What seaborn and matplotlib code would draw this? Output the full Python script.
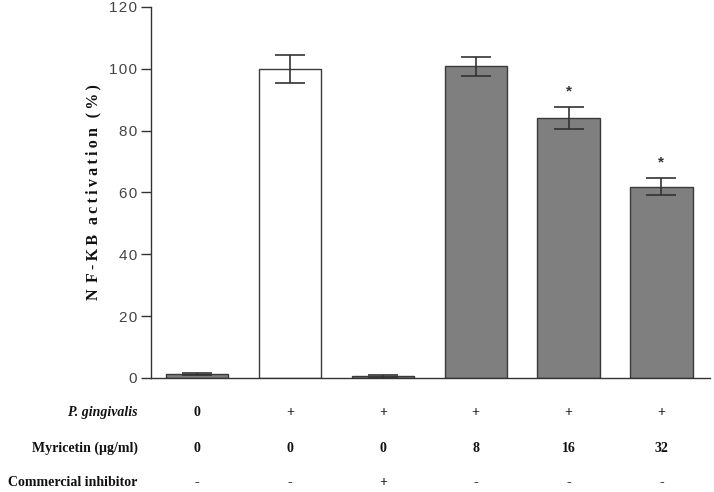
import matplotlib
matplotlib.use('Agg')
import matplotlib.pyplot as plt
import matplotlib.transforms as mtransforms
import seaborn as sns
import pandas as pd

# ----------------------------------------------------------------------------
# Data
# ----------------------------------------------------------------------------

GROUPS = ['G1', 'G2', 'G3', 'G4', 'G5', 'G6']
ACTIVATION = [1.3, 100.0, 0.5, 100.8, 84.0, 61.8]
ERRORS = [0.3, 4.5, 0.5, 3.0, 3.5, 2.7]
SIGNIFICANT = [False, False, False, False, True, True]
BAR_COLOURS = ['#7f7f7f', '#ffffff', '#7f7f7f', '#7f7f7f', '#7f7f7f', '#7f7f7f']

ROW_LABELS = ['P. gingivalis', 'Myricetin (\u00b5g/ml)', 'Commercial inhibitor']
P_GINGIVALIS = ['0', '+', '+', '+', '+', '+']
MYRICETIN = ['0', '0', '0', '8', '16', '32']
INHIBITOR = ['-', '-', '+', '-', '-', '-']

Y_TICKS = [0, 20, 40, 60, 80, 100, 120]

# ----------------------------------------------------------------------------
# Plot
# ----------------------------------------------------------------------------

sns.set_style('white')
SERIF = ['Liberation Serif', 'DejaVu Serif']
SANS = ['Liberation Sans', 'DejaVu Sans']

df = pd.DataFrame({'group': GROUPS, 'value': ACTIVATION})

fig = plt.figure(figsize=(7.14, 4.92), dpi=100)
ax = fig.add_axes([0.211, 0.232, 0.783, 0.754])

sns.barplot(data=df, x='group', y='value', hue='group', palette=BAR_COLOURS,
            width=0.67, edgecolor='#3a3a3a', linewidth=1.0, legend=False,
            errorbar=None, ax=ax)

positions = range(len(GROUPS))
ax.errorbar(list(positions), ACTIVATION, yerr=ERRORS, fmt='none',
            ecolor='#333333', elinewidth=1.2, capsize=11, capthick=1.2, zorder=3)

for i, (val, err, sig) in enumerate(zip(ACTIVATION, ERRORS, SIGNIFICANT)):
    if sig:
        ax.text(i, val + err + 5.2, '*', ha='center', va='center',
                fontsize=11, fontweight='bold', color='#333333', family=SANS)

ax.set_xlim(-0.5, 5.52)
ax.set_ylim(0, 120)
ax.set_yticks(Y_TICKS)
ax.set_yticklabels(['\u200a'.join(str(t)) for t in Y_TICKS], family=SANS)
ax.set_xticks([])
ax.set_xlabel('')
ax.set_ylabel('N\u2009\u2009F\u2009-\u2009K\u2009B\u2009\u2009\u2009a\u2009c\u2009t\u2009i\u2009v\u2009a\u2009t\u2009i\u2009o\u2009n\u2009\u2009\u2009(\u2009%\u2009)',
              family=SERIF, fontweight='bold', fontsize=11.5, labelpad=5, color='#111111')

sns.despine(ax=ax)
for side in ['left', 'bottom']:
    ax.spines[side].set_color('#333333')
    ax.spines[side].set_linewidth(1.0)
ax.tick_params(axis='y', direction='out', length=7, width=1.0, color='#333333',
               labelsize=11, labelcolor='#444444', pad=3, left=True)

# table of treatments below the bars
trans = mtransforms.blended_transform_factory(ax.transData, ax.transAxes)
label_trans = ax.transAxes
rows = [P_GINGIVALIS, MYRICETIN, INHIBITOR]
row_y = [-0.094, -0.191, -0.283]
for label, values, y in zip(ROW_LABELS, rows, row_y):
    style = 'italic' if label.startswith('P.') else 'normal'
    ax.text(-0.023, y, label, transform=label_trans, ha='right', va='center',
            family=SERIF, fontweight='bold', fontstyle=style, fontsize=10, color='#111111')
    for i, v in enumerate(values):
        ax.text(i, y, v, transform=trans, ha='center', va='center',
                family=SERIF, fontweight='bold', fontsize=10, color='#111111')

fig.savefig('out.png', dpi=100)
